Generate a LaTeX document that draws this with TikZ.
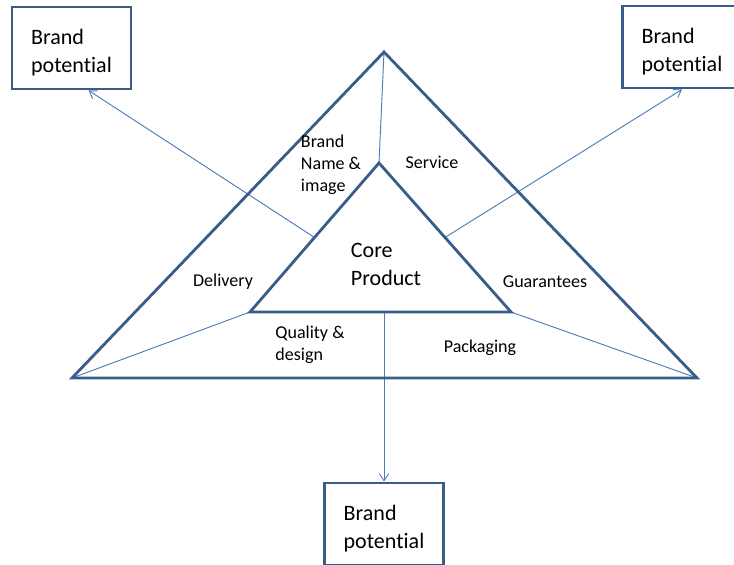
\documentclass[tikz,border=0pt]{standalone}
\usepackage{fontspec}
\setmainfont{Carlito}[Ligatures=NoCommon]
\usetikzlibrary{positioning, arrows.meta, calc}
\definecolor{edgeblue}{RGB}{56,93,138}
\definecolor{linkblue}{RGB}{74,126,187}
\tikzset{
  potential/.style={draw=edgeblue, line width=2.4pt, fill=white, minimum width=3.57cm, minimum height=2.46cm, align=left, text height=45pt, font=\fontsize{18.8}{24}\selectfont},
  link/.style={draw=linkblue, line width=0.8pt},
  layer/.style={draw=edgeblue, line width=2.4pt, line join=miter},
  part/.style={align=left, inner sep=0pt, font=\fontsize{15.4}{18.8}\selectfont}
}
\begin{document}
\begin{tikzpicture}[x=0.03cm, y=-0.03cm]
    \useasboundingbox (0,0) rectangle (734,564);
    \clip (0,0) rectangle (734,564);
    % Triangle corners
    \coordinate (outerTop) at (384,52);
    \coordinate (outerLeft) at (72,378);
    \coordinate (outerRight) at (697,378);
    \coordinate (innerTop) at (379,163);
    \coordinate (innerLeft) at (250,312);
    \coordinate (innerRight) at (511,312);
    % Brand potential boxes
    \node (leftBox) [potential] at (71.5,48) {Brand\\potential};
    \node (rightBox) [potential] at (682,47) {Brand\\potential};
    \node (bottomBox) [potential] at (384,524) {Brand\\potential};
    % Dividers
    \draw [link] (outerTop) -- (innerTop);
    \draw [link] (innerLeft) -- (outerLeft);
    \draw [link] (innerRight) -- (outerRight);
    % Arrows to the boxes
    \coordinate (leftTip) at ($(leftBox.south west)!0.64!(leftBox.south east)$);
    \draw [link, -{Straight Barb[length=6pt, width=8pt]}] ($(innerTop)!0.5!(innerLeft)$) -- (leftTip);
    \draw [link, -{Straight Barb[length=6pt, width=8pt]}] ($(innerTop)!0.5!(innerRight)$) -- (rightBox.south);
    \draw [link, -{Straight Barb[length=6pt, width=8pt]}] (bottomBox.north |- innerLeft) -- (bottomBox.north);
    % Triangles
    \draw [layer] (outerTop) -- (outerLeft) -- (outerRight) -- cycle;
    \draw [layer] (innerTop) -- (innerLeft) -- (innerRight) -- cycle;
    % Labels
    \node (core) [part, font=\fontsize{18.8}{24}\selectfont] at (386,264) {Core\\Product};
    \node (brandName) [part] at (331,165) {Brand\\Name \&\\image};
    \node (service) [part] at (432,162) {Service};
    \node (delivery) [part] at (223,282) {Delivery};
    \node (guarantees) [part] at (545,282) {Guarantees};
    \node (quality) [part] at (310,345) {Quality \&\\design};
    \node (packaging) [part] at (480,348) {Packaging};
\end{tikzpicture}
\end{document}
